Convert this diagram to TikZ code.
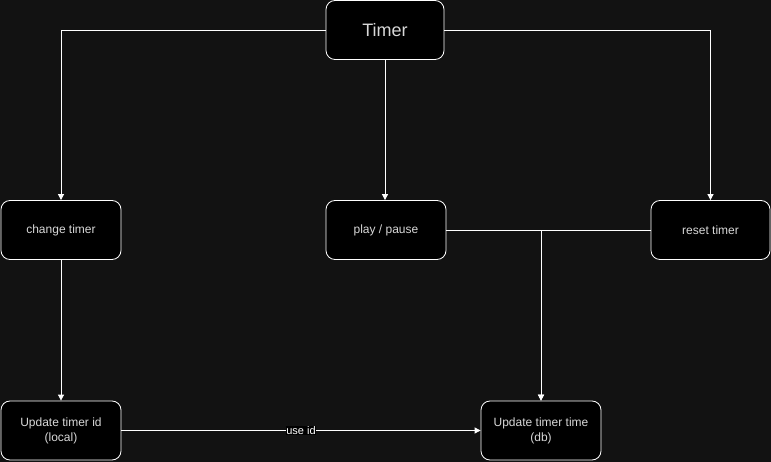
\documentclass[tikz,border=0pt]{standalone}
\usepackage{fontspec}
\setmainfont{Liberation Sans}
\usetikzlibrary{arrows.meta}
\definecolor{canvas}{HTML}{121212}
\definecolor{labeltext}{HTML}{D8D8D8}
\begin{document}
\begin{tikzpicture}[
    x=1pt, y=-1pt,
    font=\fontsize{12pt}{15pt}\selectfont,
    step box/.style={
        draw=white,
        fill=black,
        text=labeltext,
        rounded corners=9pt,
        line width=0.8pt,
        minimum width=120pt,
        minimum height=59pt,
        align=center,
        inner sep=3pt
    },
    flow/.style={
        -{Triangle[length=6pt,width=6pt]},
        draw=white,
        line width=0.8pt
    }
]
    \fill[canvas] (0,0) rectangle (771,462);
    \useasboundingbox (0,0) rectangle (771,462);

    \node[step box, minimum width=118pt, font=\fontsize{18pt}{21pt}\selectfont] (timer) at (385,30)
        {Timer};
    \node[step box] (change) at (61,230)
        {change timer};
    \node[step box] (play) at (386,230)
        {play / pause};
    \node[step box, minimum width=119pt] (reset) at (710.5,230)
        {reset timer};
    \node[step box] (updateid) at (61,430.5)
        {Update timer id\\(local)};
    \node[step box] (updatetime) at (541,430.5)
        {Update timer time\\(db)};

    \draw[flow] (timer.west) -| (change.north);
    \draw[flow] (timer.east) -| (reset.north);
    \draw[flow] (timer.south) -- (timer.south |- play.north);
    \draw[flow] (play.east) -| (updatetime.north);
    \draw[flow] (reset.west) -| (updatetime.north);
    \draw[flow] (change.south) -- (updateid.north);
    \draw[flow] (updateid.east) --
        node[midway, fill=black, text=white, inner sep=0.5pt, font=\fontsize{11pt}{13pt}\selectfont] {use id}
        (updatetime.west);
\end{tikzpicture}
\end{document}
